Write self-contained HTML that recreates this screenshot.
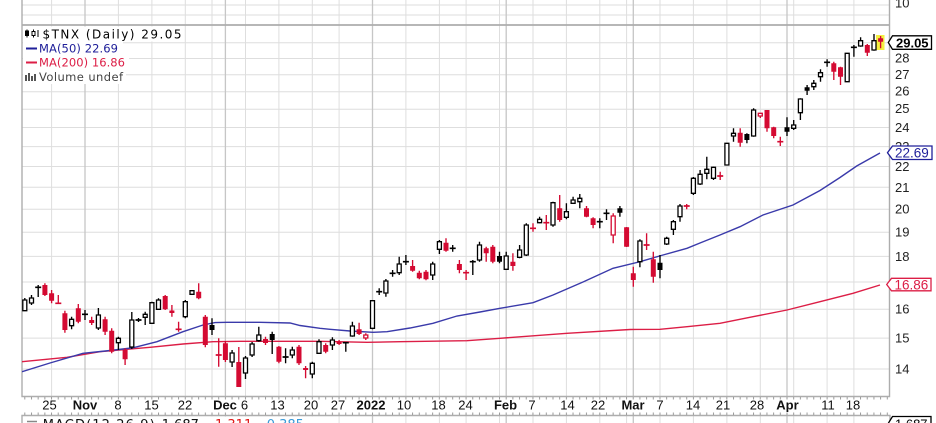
<!DOCTYPE html>
<html><head><meta charset="utf-8"><style>html,body{margin:0;padding:0;background:#fff;width:936px;height:423px;overflow:hidden}svg{display:block}</style></head>
<body>
<svg width="936" height="423" viewBox="0 0 936 423" xmlns="http://www.w3.org/2000/svg">
<defs>
<clipPath id="pc"><rect x="22" y="25" width="867.5" height="371.5"/></clipPath>
<pattern id="tk" x="24.3" y="0" width="6.686" height="4" patternUnits="userSpaceOnUse"><rect x="0" y="0" width="1" height="4" fill="#9a9a9a"/></pattern>
</defs>
<rect width="936" height="423" fill="#fff"/>
<!-- horizontal gridlines -->
<g stroke="#dedede" stroke-width="1">
<path d="M22 5H889.5M22 15H889.5M22 369H889.5M22 338.1H889.5M22 309.2H889.5M22 282H889.5M22 256.4H889.5M22 232.2H889.5M22 209.2H889.5M22 187.3H889.5M22 166.5H889.5M22 146.6H889.5M22 127.5H889.5M22 109.2H889.5M22 91.7H889.5M22 74.8H889.5M22 58.5H889.5M22 42.8H889.5"/>
</g>
<!-- vertical weekly gridlines -->
<g stroke="#dedede" stroke-width="1">
<path d="M51.6 0V396.5M118.4 0V396.5M151.9 0V396.5M185.3 0V396.5M212 0V396.5M245.5 0V396.5M278.9 0V396.5M312.3 0V396.5M339.1 0V396.5M405.9 0V396.5M439.4 0V396.5M466.1 0V396.5M499.5 0V396.5M533 0V396.5M566.4 0V396.5M599.8 0V396.5M626.6 0V396.5M660 0V396.5M693.4 0V396.5M726.9 0V396.5M760.3 0V396.5M793.7 0V396.5M827.1 0V396.5M853.9 0V396.5"/>
<path d="M51.6 416V423M118.4 416V423M151.9 416V423M185.3 416V423M212 416V423M245.5 416V423M278.9 416V423M312.3 416V423M339.1 416V423M405.9 416V423M439.4 416V423M466.1 416V423M499.5 416V423M533 416V423M566.4 416V423M599.8 416V423M626.6 416V423M660 416V423M693.4 416V423M726.9 416V423M760.3 416V423M793.7 416V423M827.1 416V423M853.9 416V423"/>
</g>
<g stroke="#c6c6c6" stroke-width="1.3">
<path d="M85 0V396.5M225.4 0V396.5M372.5 0V396.5M506.2 0V396.5M633.3 0V396.5M787 0V396.5"/>
<path d="M85 416V423M225.4 416V423M372.5 416V423M506.2 416V423M633.3 416V423M787 416V423"/>
</g>
<!-- borders -->
<g stroke="#adadad" fill="none">
<path d="M22 0V396.5H889.5V0" stroke-width="1.4"/>
<path d="M22 25H889.5" stroke-width="1.7"/>
<path d="M22 423V415.5H890V423" stroke-width="1.4"/>
</g>
<rect x="22" y="397" width="868" height="2.5" fill="url(#tk)"/>
<rect x="22" y="412.5" width="868" height="2.5" fill="url(#tk)"/>

<g clip-path="url(#pc)">
<!-- moving averages -->
<polyline fill="none" stroke="#dc1e46" stroke-width="1.4" points="22,361.7 67,357.3 100,351.7 150,347.3 183,344 213,341.7 240,341.3 320,341.3 367,342.3 400,341.7 467,340.7 500,338.3 567,333.3 630,329.5 660,329.3 687,326.7 720,323.3 753,316.7 787,310 820,301.7 853,293.3 880,285"/>
<polyline fill="none" stroke="#3a3aaa" stroke-width="1.4" points="22,371.7 50,363 83,353.3 110,350.5 133,347.8 157,341.7 183,331.7 203,325 215,322.6 227,322.3 260,322.3 290,323 300,325.5 320,328.3 330,329.3 350,331 373,332.3 387,331.7 410,328 433,323.3 457,316 480,312 500,308.3 533,302.7 553,295 583,282 613,268.3 640,261.7 663,255 687,248.3 700,243 720,235 740,226.7 763,215 793,205 820,190.5 840,177.5 856.7,166 880,153"/>
<!-- highlight last -->
<rect x="876" y="35" width="8.5" height="15" fill="#f5f040"/>
<!-- black wicks -->
<path fill="none" stroke="#000" stroke-width="1.35" d="M24.8 298V311M31.5 295V305M38.2 285V297M71.6 316.7V329.3M85 310V320M98.4 308V330M118.4 336.7V350M131.8 312V349M138.5 318V322M145.2 311.7V325M151.9 301.7V324M158.5 298.3V310M185.3 300V318.3M192 290V295M212 318.3V335M232.1 350V367M245.5 356V379M252.1 342V357M258.8 326.7V341.7M272.2 331.7V354M285.6 348.3V363.3M292.3 346.7V358.3M312.3 361.7V378.3M319 339.3V354M332.4 337.3V350M345.8 342.7V351.7M352.4 321.7V336.7M372.5 300V329.3M379.2 288.3V295M385.9 279V296.7M392.6 270V276.7M399.2 256.7V275M405.9 255V265M432.7 261.7V280M439.4 240V254M452.7 245V251.7M472.8 260V275M479.5 241.7V261.7M499.5 251.7V263.3M506.2 251.7V270M519.6 245V258.3M526.3 223.3V256M539.6 216.7V223.3M553 201.7V226.7M566.4 203.3V219.3M573.1 196.7V204M579.8 194V208.3M599.8 218.3V228.3M606.5 209.3V220M619.9 206V216.7M639.9 239.3V267.3M660 255V278.3M666.7 236.7V245M673.4 220V235M680 204V221.7M693.4 177V195M700.1 170V185M706.8 156.7V179.3M713.5 166.7V180M726.9 143V165.5M733.5 128.3V141.7M746.9 133.3V143.3M753.6 108.3V136.7M787 117.3V136M793.7 120V130M800.4 98.3V120M807.1 85V95M813.8 80V90M820.5 69.3V81.7M827.1 59.3V66.7M847.2 53V82M853.9 45V56.7M860.6 37.3V46.7M874 34V50.7"/>
<!-- red wicks -->
<path fill="none" stroke="#d40a32" stroke-width="1.35" d="M44.9 283.3V296M51.6 290V303.3M58.3 295V304M64.9 310.7V332.7M78.3 304V323.3M91.7 316.7V325M105.1 316.7V335M111.7 328.3V353.3M125.1 348.3V365M165.2 295V310M171.9 305V316.7M178.6 321.7V331.7M198.7 283.3V299.3M205.3 315V347.3M218.7 338.3V366.7M225.4 341V362M238.8 347V387M265.5 336.7V345M278.9 346V363.3M299 345V365M305.6 366V378.3M325.7 343.3V353.3M339.1 340V345M359.1 322.7V335M365.8 333.3V340M412.6 260V271.7M419.3 270.7V279.3M426 270V280.3M446 238.3V251.7M459.4 260V273.3M466.1 270V280M486.2 246.7V261.7M492.8 245V263.3M512.9 253.3V270.7M533 223.3V231.7M546.3 215V230M559.7 195V221.7M586.5 206V217.3M593.1 217.3V228.3M613.2 213.3V243.3M626.6 227V247M633.3 266.7V286.7M646.6 233.3V250M653.3 251.7V282.7M686.7 204V209.3M720.2 171.7V180M740.2 128.3V146.7M760.3 113V118M767 110V131.7M773.7 126.7V138.3M780.3 136.7V146M833.8 61.7V80M840.5 66.7V85M867.3 44V56M880.6 36V48.3"/>
<!-- hollow bodies -->
<path fill="#fff" stroke="#000" stroke-width="1.3" d="M22.8 300h4V310.7h-4ZM29.5 298h4V303h-4ZM69.6 319.3h4V325.7h-4ZM96.4 315h4V328h-4ZM116.4 338.3h4V342.7h-4ZM129.8 320h4V347h-4ZM143.2 314.3h4V317.3h-4ZM149.9 302.7h4V323.3h-4ZM156.5 300h4V309.3h-4ZM183.3 301.7h4V316.7h-4ZM190 290.7h4V294.3h-4ZM230.1 353h4V362h-4ZM243.5 358h4V373h-4ZM250.1 344h4V355h-4ZM256.8 335h4V340.7h-4ZM290.3 350h4V355h-4ZM310.3 363.3h4V374h-4ZM317 341.7h4V353.3h-4ZM330.4 340h4V345h-4ZM350.4 326h4V336h-4ZM370.5 300.7h4V328.3h-4ZM383.9 281h4V293h-4ZM397.2 264h4V272.7h-4ZM430.7 264h4V275h-4ZM437.4 241.7h4V249.3h-4ZM477.5 245h4V260h-4ZM504.2 256h4V269.3h-4ZM517.6 250h4V257.3h-4ZM524.3 225h4V255h-4ZM537.6 219.3h4V222.7h-4ZM551 202.7h4V225h-4ZM564.4 211.7h4V217.3h-4ZM571.1 200h4V203.3h-4ZM577.8 198.3h4V201.7h-4ZM637.9 241h4V261.7h-4ZM664.7 238.3h4V244h-4ZM671.4 221.7h4V229.3h-4ZM678 206h4V216.7h-4ZM691.4 178.3h4V193.3h-4ZM698.1 174.3h4V184h-4ZM704.8 169.3h4V173.3h-4ZM711.5 167.3h4V178.3h-4ZM724.9 143.3h4V165h-4ZM731.5 133.3h4V136h-4ZM751.6 110h4V136h-4ZM791.7 125h4V128.3h-4ZM798.4 99h4V112.7h-4ZM811.8 83.3h4V86.7h-4ZM818.5 72.7h4V76.7h-4ZM845.2 53.3h4V81.7h-4ZM858.6 40.7h4V46h-4ZM872 40.7h4V50h-4Z"/>
<!-- red hollow bodies -->
<path fill="#fff" stroke="#d40a32" stroke-width="1.3" d="M363.8 335h4V338h-4ZM611.2 216h4V235h-4ZM758.3 113.3h4V116h-4Z"/>
<!-- black filled bodies -->
<path fill="#000" d="M209.5 325h5V330h-5ZM269.7 334h5V340h-5ZM497 256h5V261.7h-5ZM617.4 208.3h5V212.7h-5ZM657.5 262.7h5V270h-5ZM744.4 134h5V140h-5ZM784.5 127.3h5V131.7h-5ZM804.6 87.3h5V90.7h-5Z"/>
<!-- red filled bodies -->
<path fill="#d40a32" d="M42.4 285h5V295h-5ZM49.1 293.3h5V300.7h-5ZM62.4 313.3h5V330h-5ZM75.8 308.3h5V321.7h-5ZM89.2 320h5V323h-5ZM102.6 319.3h5V331.7h-5ZM109.2 330.7h5V351.7h-5ZM122.6 350h5V359.3h-5ZM162.7 296h5V309.3h-5ZM169.4 310.5h5V313h-5ZM196.2 291.7h5V298.3h-5ZM202.8 316.7h5V345h-5ZM222.9 343.3h5V360h-5ZM236.3 362h5V387h-5ZM263 339h5V343h-5ZM276.4 346.7h5V361.7h-5ZM296.5 346.7h5V363.3h-5ZM303.1 368h5V370h-5ZM323.2 345h5V351.7h-5ZM336.6 341.7h5V344h-5ZM356.6 329.3h5V334h-5ZM410.1 266h5V270.7h-5ZM416.8 272.7h5V278.3h-5ZM423.5 271.7h5V279.3h-5ZM443.5 242.7h5V250.7h-5ZM456.9 264h5V270h-5ZM483.7 248.3h5V253.3h-5ZM490.3 246.7h5V261.7h-5ZM510.4 261.7h5V266h-5ZM557.2 208.3h5V220h-5ZM584 208.3h5V216.7h-5ZM590.6 218.3h5V225h-5ZM624.1 227.3h5V246.7h-5ZM630.8 273.3h5V280h-5ZM650.8 259.3h5V276.7h-5ZM737.7 132.7h5V142.7h-5ZM764.5 110h5V128.3h-5ZM771.2 127.3h5V136h-5ZM831.3 63.3h5V71.7h-5ZM838 67.3h5V76.7h-5ZM864.8 45h5V52.7h-5ZM878.1 38.3h5V41.7h-5Z"/>
<!-- dojis -->
<path fill="none" stroke="#000" stroke-width="1.7" d="M35.2 287.3h6M82 314.3h6M135.5 320h6M282.6 357h6M342.8 342.7h6M376.2 291.7h6M389.6 273.3h6M402.9 261.7h6M449.7 248.3h6M469.8 261.7h6M596.8 221.7h6M603.5 213.3h6M824.1 62.3h6M850.9 47.3h6"/>
<path fill="none" stroke="#d40a32" stroke-width="1.7" d="M55.3 303.3h6M175.6 329.3h6M215.7 355h6M463.1 272.7h6M530 228.3h6M543.3 222.7h6M643.6 245h6M683.7 206h6M717.2 176h6M777.3 141.7h6"/>
</g>

<!-- legend -->
<rect x="23" y="26.5" width="161" height="15" fill="#fff"/>
<rect x="23" y="41.5" width="100" height="14.5" fill="#fff"/>
<rect x="23" y="56" width="106" height="14.5" fill="#fff"/>
<rect x="23" y="70.5" width="103" height="13.5" fill="#fff"/>
<g stroke="#000" stroke-width="1">
<path d="M27 29.5V37.5M33.5 29.5V37.5M38 30V37"/>
<rect x="25.5" y="31" width="3" height="4.5" fill="#000"/>
<rect x="32" y="31.5" width="3" height="4" fill="#fff"/>
</g>
<path d="M26 48.5H37" stroke="#20209a" stroke-width="2"/>
<path d="M26 62.5H37" stroke="#dc1e46" stroke-width="2"/>
<path fill="#555" d="M25 75h2v6h-2ZM28 73h2v8h-2ZM31 76h2v5h-2ZM34 74h2v7h-2Z"/>
<g font-family="'DejaVu Sans', Verdana, sans-serif">
<text x="42.5" y="38.3" font-size="12" fill="#000" textLength="139" lengthAdjust="spacing">$TNX (Daily) 29.05</text>
<text x="39" y="52.5" font-size="11.5" fill="#20209a" textLength="79" lengthAdjust="spacing">MA(50) 22.69</text>
<text x="39" y="66.5" font-size="11.5" fill="#dc1e46" textLength="86" lengthAdjust="spacing">MA(200) 16.86</text>
<text x="39" y="81" font-size="11.5" fill="#444" textLength="84" lengthAdjust="spacing">Volume undef</text>
</g>

<!-- y axis labels -->
<g font-family="'Liberation Sans', Arial, sans-serif" font-size="13" fill="#222">
<text x="895" y="7.5">10</text>
<text x="895" y="373.5">14</text>
<text x="895" y="342.6">15</text>
<text x="895" y="313.7">16</text>
<text x="895" y="260.9">18</text>
<text x="895" y="236.7">19</text>
<text x="895" y="213.7">20</text>
<text x="895" y="191.8">21</text>
<text x="895" y="171">22</text>
<text x="895" y="151.1">23</text>
<text x="895" y="132">24</text>
<text x="895" y="113.2">25</text>
<text x="895" y="95.6">26</text>
<text x="895" y="79">27</text>
<text x="895" y="62.5">28</text>
</g>
<!-- value tags -->
<polygon points="888.3,42.5 892.5,35.8 931.5,35.8 931.5,49.3 892.5,49.3" fill="#fff" stroke="#000" stroke-width="1.3"/>
<text x="896" y="47.3" font-family="'Liberation Sans', Arial, sans-serif" font-size="13" font-weight="bold" fill="#000">29.05</text>
<polygon points="887.5,152.7 892.5,146 932,146 932,159.5 892.5,159.5" fill="#fff" stroke="#20209a" stroke-width="1.3"/>
<text x="895" y="157.5" font-family="'Liberation Sans', Arial, sans-serif" font-size="13.5" fill="#20209a">22.69</text>
<polygon points="886.7,284.5 891.5,278.3 931,278.3 931,290.8 891.5,290.8" fill="#fff" stroke="#dc1e46" stroke-width="1.3"/>
<text x="894.5" y="289.3" font-family="'Liberation Sans', Arial, sans-serif" font-size="13.5" fill="#dc1e46">16.86</text>

<!-- x axis labels -->
<g font-family="'Liberation Sans', Arial, sans-serif" font-size="13" fill="#111" text-anchor="middle">
<text x="49.5" y="409.5">25</text>
<text x="85" y="409.5" font-weight="bold">Nov</text>
<text x="118" y="409.5">8</text>
<text x="151.5" y="409.5">15</text>
<text x="185" y="409.5">22</text>
<text x="225" y="409.5" font-weight="bold">Dec</text>
<text x="244.5" y="409.5">6</text>
<text x="277.5" y="409.5">13</text>
<text x="311" y="409.5">20</text>
<text x="338" y="409.5">27</text>
<text x="371" y="409.5" font-weight="bold">2022</text>
<text x="404" y="409.5">10</text>
<text x="438.5" y="409.5">18</text>
<text x="465.5" y="409.5">24</text>
<text x="505.5" y="409.5" font-weight="bold">Feb</text>
<text x="532" y="409.5">7</text>
<text x="567.5" y="409.5">14</text>
<text x="598" y="409.5">22</text>
<text x="633" y="409.5" font-weight="bold">Mar</text>
<text x="660" y="409.5">7</text>
<text x="693" y="409.5">14</text>
<text x="723" y="409.5">21</text>
<text x="757" y="409.5">28</text>
<text x="787.5" y="409.5" font-weight="bold">Apr</text>
<text x="828" y="409.5">11</text>
<text x="853" y="409.5">18</text>
</g>

<!-- MACD panel (cut) -->
<rect x="23" y="416.5" width="290" height="7" fill="#fff"/>
<path d="M27 421.5H37" stroke="#888" stroke-width="1.5"/>
<g font-family="'DejaVu Sans', Verdana, sans-serif" font-size="13">
<text x="42.7" y="428.8" fill="#111" textLength="112" lengthAdjust="spacing">MACD(12,26,9)</text>
<text x="161.7" y="428.8" fill="#111">1.687,</text>
<text x="215" y="428.8" fill="#e01818">1.311,</text>
<text x="266.7" y="428.8" fill="#3a9ad8">0.385</text>
</g>
<polygon points="888.3,423.3 892.5,416.5 931,416.5 931,431 892.5,431" fill="#fff" stroke="#000" stroke-width="1.3"/>
<text x="895" y="428.5" font-family="'Liberation Sans', Arial, sans-serif" font-size="13" fill="#000">1.687</text>
</svg>
</body></html>
